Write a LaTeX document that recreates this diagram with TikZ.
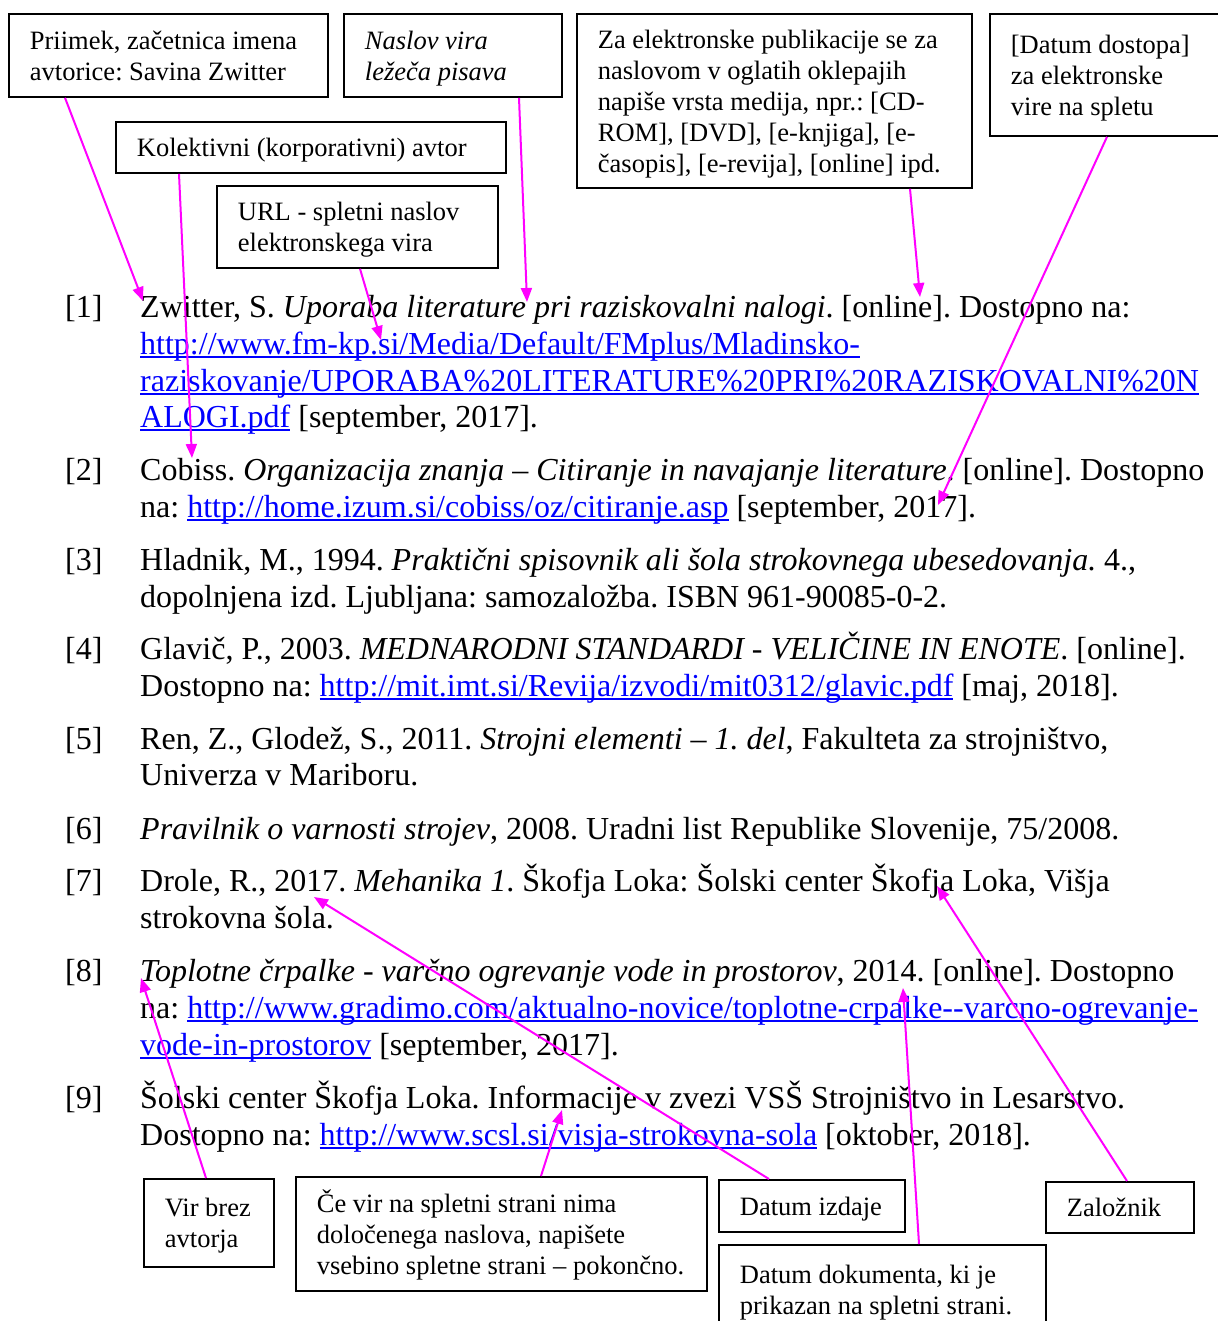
\documentclass[tikz,border=0pt]{standalone}
\usepackage{fontspec}
\setmainfont{Liberation Serif}
\usetikzlibrary{arrows.meta,calc}
\definecolor{lnkblue}{HTML}{0000FF}
\definecolor{arrmag}{HTML}{FF00FF}
\newcommand\lnk[1]{\textcolor{lnkblue}{\setbox0\hbox{#1}\rlap{\rule[-3.5pt]{\wd0}{1.6pt}}\box0}}
\newcommand\bodyfont{\fontsize{32}{37}\selectfont\frenchspacing}
\newcommand\notefont{\fontsize{26.5}{31}\selectfont\frenchspacing}
\newcommand\nt[2]{\raisebox{0pt}[\dimexpr\height+6pt\relax][\depth]{\makebox[#1pt][l]{\begin{tabular}{@{}l@{}}#2\end{tabular}}}}
\begin{document}
\begin{tikzpicture}[x=1pt,y=-1pt,
  note/.style={draw,line width=1.8pt,anchor=north west,inner xsep=21pt,inner ysep=0pt,font=\notefont},
  ref/.style={anchor=base west,inner sep=0pt,font=\bodyfont},
  arr/.style={draw=arrmag,line width=2pt,-{Triangle[length=14pt,width=11pt]}}]
\useasboundingbox (0,0) rectangle (1217,1321);
\fill[white] (0,0) rectangle (1217,1321);

% reference list
\node[ref] (n1) at (65,317) {[1]};
\node[ref] (r1a) at (140,317) {Zwitter, S. \textit{Uporaba literature pri raziskovalni nalogi}. [online]. Dostopno na:};
\node[ref] (r1b) at (140,354) {\lnk{http://www.fm-kp.si/Media/Default/FMplus/Mladinsko-}};
\node[ref] (r1c) at (140,391) {\lnk{raziskovanje/UPORABA\%20LITERATURE\%20PRI\%20RAZISKOVALNI\%20N}};
\node[ref] (r1d) at (140,427) {\lnk{ALOGI.pdf} [september, 2017].};

\node[ref] (n2) at (65,480) {[2]};
\node[ref] (r2a) at (140,480) {Cobiss. \textit{Organizacija znanja – Citiranje in navajanje literature}. [online]. Dostopno};
\node[ref] (r2b) at (140,517) {na: \lnk{http://home.izum.si/cobiss/oz/citiranje.asp} [september, 2017].};

\node[ref] (n3) at (65,570) {[3]};
\node[ref] (r3a) at (140,570) {Hladnik, M., 1994. \textit{Praktični spisovnik ali šola strokovnega ubesedovanja.} 4.,};
\node[ref] (r3b) at (140,607) {dopolnjena izd. Ljubljana: samozaložba. ISBN 961-90085-0-2.};

\node[ref] (n4) at (65,659) {[4]};
\node[ref] (r4a) at (140,659) {Glavič, P., 2003. \textit{MEDNARODNI STANDARDI - VELIČINE IN ENOTE}. [online].};
\node[ref] (r4b) at (140,696) {Dostopno na: \lnk{http://mit.imt.si/Revija/izvodi/mit0312/glavic.pdf} [maj, 2018].};

\node[ref] (n5) at (65,749) {[5]};
\node[ref] (r5a) at (140,749) {Ren, Z., Glodež, S., 2011. \textit{Strojni elementi – 1. del}, Fakulteta za strojništvo,};
\node[ref] (r5b) at (140,785) {Univerza v Mariboru.};

\node[ref] (n6) at (65,839) {[6]};
\node[ref] (r6a) at (140,839) {\textit{Pravilnik o varnosti strojev}, 2008. Uradni list Republike Slovenije, 75/2008.};

\node[ref] (n7) at (65,891) {[7]};
\node[ref] (r7a) at (140,891) {Drole, R., 2017. \textit{Mehanika 1}. Škofja Loka: Šolski center Škofja Loka, Višja};
\node[ref] (r7b) at (140,928) {strokovna šola.};

\node[ref] (n8) at (65,981) {[8]};
\node[ref] (r8a) at (140,981) {\textit{Toplotne črpalke - varčno ogrevanje vode in prostorov}, 2014. [online]. Dostopno};
\node[ref] (r8b) at (140,1018) {na: \lnk{http://www.gradimo.com/aktualno-novice/toplotne-crpalke-{}-varcno-ogrevanje-}};
\node[ref] (r8c) at (140,1055) {\lnk{vode-in-prostorov} [september, 2017].};

\node[ref] (n9) at (65,1108) {[9]};
\node[ref] (r9a) at (140,1108) {Šolski center Škofja Loka. Informacije v zvezi VSŠ Strojništvo in Lesarstvo.};
\node[ref] (r9b) at (140,1145) {Dostopno na: \lnk{http://www.scsl.si/visja-strokovna-sola} [oktober, 2018].};

% note boxes
\node[note,minimum height=83pt] (b1) at (8,13) {\nt{277}{Priimek, začetnica imena\\avtorice: Savina Zwitter}};
\node[note,minimum height=83pt] (b2) at (343,13) {\nt{176}{\itshape Naslov vira\\\itshape ležeča pisava}};
\node[note,minimum height=51pt] (b3) at (115,121) {\nt{348}{Kolektivni (korporativni) avtor}};
\node[note,minimum height=82pt] (b4) at (216,185) {\nt{239}{URL - spletni naslov\\elektronskega vira}};
\node[note,minimum height=174pt] (b5) at (576,13) {\nt{353}{Za elektronske publikacije se za\\naslovom v oglatih oklepajih\\napiše vrsta medija, npr.: [CD-\\ROM], [DVD], [e-knjiga], [e-\\časopis], [e-revija], [online] ipd.}};
\node[note,minimum height=122pt] (b6) at (989,13) {\nt{209}{[Datum dostopa]\\za elektronske\\vire na spletu}};
\node[note,minimum height=88pt] (b7) at (143,1178) {\nt{88}{Vir brez\\avtorja}};
\node[note,minimum height=114pt] (b8) at (295,1176) {\nt{369}{Če vir na spletni strani nima\\določenega naslova, napišete\\vsebino spletne strani – pokončno.}};
\node[note,minimum height=52pt] (b9) at (718,1179) {\nt{144}{Datum izdaje}};
\node[note,minimum height=90pt] (b10) at (718,1244) {\nt{285}{Datum dokumenta, ki je\\prikazan na spletni strani.}};
\node[note,minimum height=51pt] (b11) at (1045,1181) {\nt{106}{Založnik}};

% arrow targets
\coordinate (t1) at (143,301);
\coordinate (t2) at (527,302);
\coordinate (t3) at (192,458);
\coordinate (t4) at (381,340);
\coordinate (t5) at (920,297);
\coordinate (t6) at (938,505);
\coordinate (t7) at (141,978);
\coordinate (t8) at (562,1110);
\coordinate (t9) at (314,897);
\coordinate (t10) at (903,988);
\coordinate (t11) at (937,886);

\draw[arr] ($(b1.south west)+(57,0)$) -- (t1);
\draw[arr] ($(b2.south west)+(176,0)$) -- (t2);
\draw[arr] ($(b3.south west)+(64,0)$) -- (t3);
\draw[arr] ($(b4.south west)+(144,0)$) -- (t4);
\draw[arr] ($(b5.south west)+(334,0)$) -- (t5);
\draw[arr] ($(b6.south west)+(118,0)$) -- (t6);
\draw[arr] ($(b7.north west)+(63,0)$) -- (t7);
\draw[arr] ($(b8.north west)+(246,0)$) -- (t8);
\draw[arr] ($(b9.north west)+(51,0)$) -- (t9);
\draw[arr] ($(b10.north west)+(201,0)$) -- (t10);
\draw[arr] ($(b11.north west)+(82,0)$) -- (t11);
\end{tikzpicture}
\end{document}
